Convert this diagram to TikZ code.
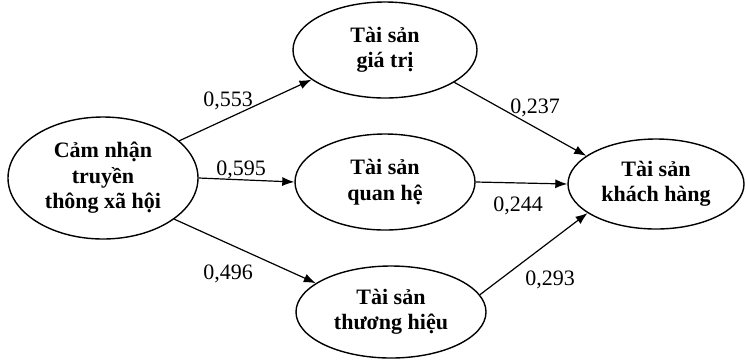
\documentclass[tikz,border=0pt]{standalone}
\usepackage{fontspec}
\setmainfont{Liberation Serif}
\usetikzlibrary{shapes.geometric,arrows.meta}

\begin{document}
\begin{tikzpicture}[x=1pt,y=-1pt,
  construct/.style={draw, ellipse, line width=1.4pt, inner sep=0pt,
    align=center, font=\fontsize{22}{25.5}\selectfont\bfseries},
  link/.style={line width=1.2pt, -{Latex[length=12pt,width=9pt]}},
  coef/.style={font=\fontsize{22}{25}\selectfont, inner sep=0pt}]
\useasboundingbox (0,0) rectangle (746,360);

% constructs
\node[construct, minimum width=190pt, minimum height=122pt] (scm) at (103,178)
  {Cảm nhận\\truyền\\thông xã hội};
\node[construct, minimum width=184pt, minimum height=96pt] (value) at (385,50)
  {Tài sản\\giá trị};
\node[construct, minimum width=180pt, minimum height=96pt] (rel) at (385,182)
  {Tài sản\\quan hệ};
\node[construct, minimum width=190pt, minimum height=92pt] (brand) at (391,312)
  {Tài sản\\thương hiệu};
\node[construct, minimum width=176pt, minimum height=90pt] (cust) at (656,184)
  {Tài sản\\khách hàng};

% paths
\draw[link] (scm.26) -- (value.202);
\draw[link] (scm.east) -- (rel.west);
\draw[link] (scm.-30) -- (brand.159);
\draw[link] (value.-25) -- (cust.158);
\draw[link] (rel.east) -- (cust.west);
\draw[link] (brand.11) -- (cust.203);

% path coefficients
\node[coef] (c1) at (228,101) {0,553};
\node[coef] (c2) at (241,170) {0,595};
\node[coef] (c3) at (228,274) {0,496};
\node[coef] (c4) at (535,108) {0,237};
\node[coef] (c5) at (518,206) {0,244};
\node[coef] (c6) at (550,280) {0,293};
\end{tikzpicture}
\end{document}
